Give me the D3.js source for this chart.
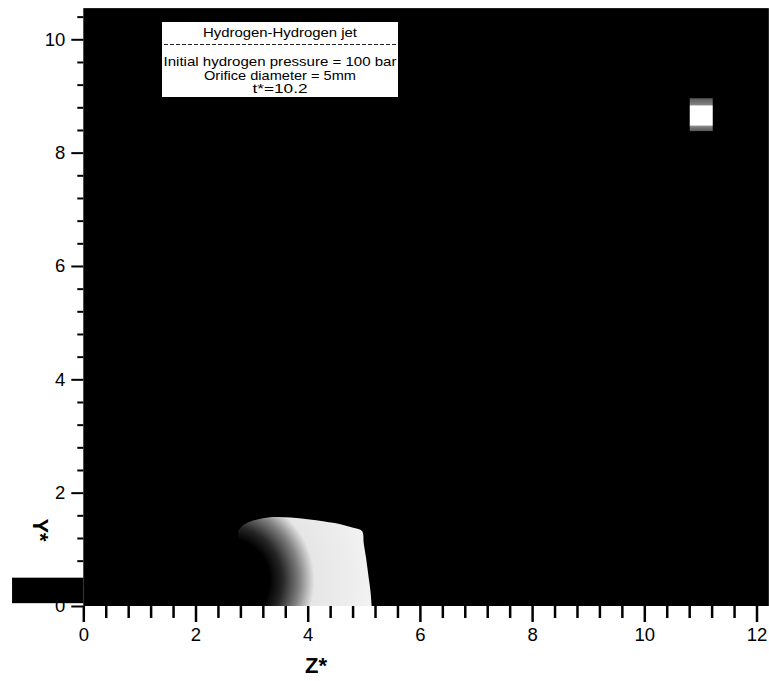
<!DOCTYPE html>
<html>
<head>
<meta charset="utf-8">
<script src="https://cdn.jsdelivr.net/npm/d3@7"></script>
<style>
  body { margin: 0; background: #fff; color: #000; }
  svg text { font-family: "Liberation Sans", Arial, sans-serif; }
</style>
</head>
<body>
<div id="chart"></div>
<script>
// axis ticks
const zTicks = [0, 2, 4, 6, 8, 10, 12]
const yTicks = [0, 2, 4, 6, 8, 10]

// extent of the computed field (Z*, Y*)
const plotZ = [0, 12.22]
const plotY = [0, 10.55]

// the orifice pipe, drawn left of the domain
const nozzleZ = [-1.27, 0]
const nozzleY = [0.05, 0.5]

// outline of the hydrogen cloud
const jetZ = [3.20, 3.00, 2.86, 2.76, 2.82, 2.98, 3.20, 3.45, 3.70, 4.00, 4.30, 4.60, 4.85, 4.97, 5.00, 5.04, 5.08, 5.12, 5.14]
const jetY = [0.00, 0.45, 0.90, 1.30, 1.40, 1.49, 1.55, 1.57, 1.56, 1.53, 1.49, 1.44, 1.37, 1.32, 1.10, 0.85, 0.55, 0.25, 0.00]

// concentration shading of the cloud: radius from a centre -> grey level
const jetShadeCenter = [2.57, 0.45]
const jetShadeR = [0.75, 0.98, 1.28, 1.55, 2.6]
const jetShadeLevel = [0.0, 0.15, 0.5, 0.9, 0.95]

// small patch top right
const spotZ = [10.81, 11.22]
const spotY = [8.38, 8.96]
const spotShadeY = [8.38, 8.46, 8.49, 8.82, 8.85, 8.96]
const spotShadeLevel = [0.35, 0.5, 1, 1, 0.5, 0.35]

const legendLines = ["Hydrogen-Hydrogen jet", "Initial hydrogen pressure = 100 bar", "Orifice diameter = 5mm", "t*=10.2"]

const width = 769, height = 681

const svg = d3.select("#chart")
  .append("svg")
    .attr("width", width)
    .attr("height", height)

const x = d3.scaleLinear().domain([0, 12]).range([83.3, 756.5])
const y = d3.scaleLinear().domain([0, 10]).range([606, 39.3])

const grey = v => d3.rgb(255 * v, 255 * v, 255 * v).toString()

const defs = svg.append("defs")

const rMax = jetShadeR[jetShadeR.length - 1]
const jetGrad = defs.append("radialGradient")
  .attr("id", "jetShade")
  .attr("gradientUnits", "userSpaceOnUse")
  .attr("cx", x(jetShadeCenter[0]))
  .attr("cy", y(jetShadeCenter[1]))
  .attr("r", x(rMax) - x(0))
jetGrad.selectAll("stop")
  .data(jetShadeR)
  .join("stop")
    .attr("offset", d => d / rMax)
    .attr("stop-color", (d, i) => grey(jetShadeLevel[i]))

const spotGrad = defs.append("linearGradient")
  .attr("id", "spotShade")
  .attr("gradientUnits", "userSpaceOnUse")
  .attr("x1", 0).attr("x2", 0)
  .attr("y1", y(spotShadeY[0]))
  .attr("y2", y(spotShadeY[spotShadeY.length - 1]))
const spotSpan = spotShadeY[spotShadeY.length - 1] - spotShadeY[0]
spotGrad.selectAll("stop")
  .data(spotShadeY)
  .join("stop")
    .attr("offset", d => (d - spotShadeY[0]) / spotSpan)
    .attr("stop-color", (d, i) => grey(spotShadeLevel[i]))

// black field
svg.append("rect")
  .attr("x", x(plotZ[0]))
  .attr("y", y(plotY[1]))
  .attr("width", x(plotZ[1]) - x(plotZ[0]))
  .attr("height", y(plotY[0]) - y(plotY[1]))
  .attr("fill", "#000")

// hydrogen cloud
const jetLine = d3.line()
  .x(d => x(d[0]))
  .y(d => y(d[1]))
  .curve(d3.curveCatmullRom)
svg.append("path")
  .attr("d", jetLine(jetZ.map((z, i) => [z, jetY[i]])) + "Z")
  .attr("fill", "url(#jetShade)")

svg.append("rect")
  .attr("x", x(spotZ[0]))
  .attr("y", y(spotY[1]))
  .attr("width", x(spotZ[1]) - x(spotZ[0]))
  .attr("height", y(spotY[0]) - y(spotY[1]))
  .attr("fill", "url(#spotShade)")

// legend box
const leg = svg.append("g").attr("transform", "translate(162,22)")
leg.append("rect")
  .attr("width", 236).attr("height", 75)
  .attr("fill", "#fff")
leg.append("line")
  .attr("x1", 2).attr("x2", 234)
  .attr("y1", 22.5).attr("y2", 22.5)
  .attr("stroke", "#222").attr("stroke-dasharray", "4,2")
const legLen = [154, 233, 152, 55]
const legBase = [15, 44, 57.5, 71]
leg.selectAll("text.leg")
  .data(legendLines)
  .join("text")
    .attr("class", "leg")
    .attr("x", 118)
    .attr("y", (d, i) => legBase[i])
    .attr("text-anchor", "middle")
    .attr("font-size", 13.5)
    .attr("textLength", (d, i) => legLen[i])
    .attr("lengthAdjust", "spacingAndGlyphs")
    .attr("fill", "#000")
    .text(d => d)

// axes
const minorZ = d3.range(0, 12.2, 0.4).filter(v => Math.abs(v / 2 - Math.round(v / 2)) > 0.01)
const minorY = d3.range(0, 10.55, 0.4).filter(v => Math.abs(v / 2 - Math.round(v / 2)) > 0.01)

const xAxis = svg.append("g")
  .attr("transform", `translate(0,${y(0)})`)
  .call(d3.axisBottom(x).tickValues(zTicks).tickSize(16).tickPadding(6).tickFormat(d3.format("d")))
xAxis.select(".domain").remove()
xAxis.selectAll("line").attr("stroke", "#000").attr("stroke-width", 2.5)
xAxis.selectAll("text").attr("font-size", 18.5).attr("fill", "#000")

const xMinor = svg.append("g")
  .attr("transform", `translate(0,${y(0)})`)
  .call(d3.axisBottom(x).tickValues(minorZ).tickSize(12).tickFormat(""))
xMinor.select(".domain").remove()
xMinor.selectAll("line").attr("stroke", "#000").attr("stroke-width", 2.5)

const yAxis = svg.append("g")
  .attr("transform", `translate(${x(0)},0)`)
  .call(d3.axisLeft(y).tickValues(yTicks).tickSize(12).tickPadding(6).tickFormat(d3.format("d")))
yAxis.select(".domain").remove()
yAxis.selectAll("line").attr("stroke", "#000").attr("stroke-width", 2)
yAxis.selectAll("text").attr("font-size", 18.5).attr("fill", "#000")

const yMinor = svg.append("g")
  .attr("transform", `translate(${x(0)},0)`)
  .call(d3.axisLeft(y).tickValues(minorY).tickSize(6).tickFormat(""))
yMinor.select(".domain").remove()
yMinor.selectAll("line").attr("stroke", "#000").attr("stroke-width", 2)

// orifice pipe sits over the 0 label
svg.append("rect")
  .attr("x", x(nozzleZ[0]))
  .attr("y", y(nozzleY[1]))
  .attr("width", x(nozzleZ[1]) - x(nozzleZ[0]))
  .attr("height", y(nozzleY[0]) - y(nozzleY[1]))
  .attr("fill", "#000")

// axis titles
svg.append("text")
  .attr("x", 316)
  .attr("y", 673)
  .attr("text-anchor", "middle")
  .attr("font-size", 22)
  .attr("font-weight", "bold")
  .text("Z*")

svg.append("text")
  .attr("transform", "translate(33,530) rotate(90)")
  .attr("text-anchor", "middle")
  .attr("font-size", 22)
  .attr("font-weight", "bold")
  .text("Y*")
</script>
</body>
</html>
